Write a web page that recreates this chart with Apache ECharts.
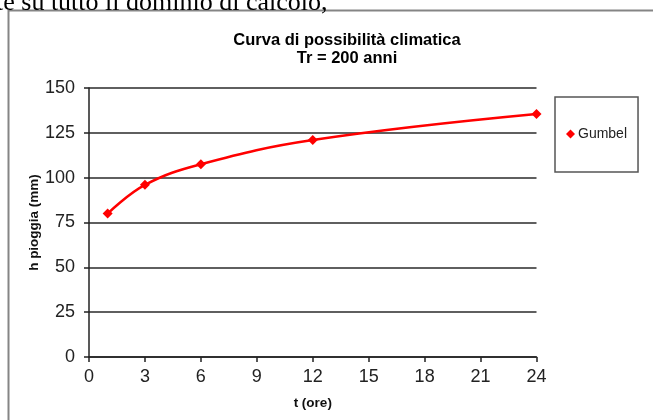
<!DOCTYPE html>
<html>
<head>
<meta charset="utf-8">
<title>Curva di possibilità climatica</title>
<script src="https://cdn.jsdelivr.net/npm/echarts@6/dist/echarts.min.js"></script>
<style>
  html, body { margin: 0; padding: 0; background: #ffffff; }
  #chart { width: 653px; height: 420px; }
</style>
</head>
<body>
<div id="chart"></div>
<script>
// Durata della pioggia (ore) e altezza di pioggia (mm), Tr = 200 anni
const durate = [1, 3, 6, 12, 24];
const gumbel = [80, 96, 107.5, 121, 135.5];
const tickOre = [0, 3, 6, 9, 12, 15, 18, 21, 24];
const tickMm = [0, 25, 50, 75, 100, 125, 150];

const chart = echarts.init(document.getElementById('chart'), null, { renderer: 'canvas' });

const sans = 'Liberation Sans, Arial, sans-serif';

chart.setOption({
  animation: false,
  backgroundColor: '#ffffff',
  graphic: [
    {
      type: 'text',
      left: -4,
      top: -10,
      style: {
        text: 'te su tutto il dominio di calcolo,',
        font: '26px "Liberation Serif", "Times New Roman", serif',
        fill: '#000000'
      },
      z: 10
    },
    {
      type: 'rect',
      shape: { x: 8.5, y: 10.5, width: 700, height: 500 },
      style: { fill: 'none', stroke: '#858585', lineWidth: 2 },
      silent: true,
      z: 0
    }
  ],
  title: {
    text: 'Curva di possibilità climatica\nTr = 200 anni',
    left: 342,
    textAlign: 'center',
    top: 26,
    textStyle: {
      fontFamily: sans,
      fontSize: 16.5,
      fontWeight: 'bold',
      color: '#000000',
      lineHeight: 18
    }
  },
  legend: {
    data: ['Gumbel'],
    left: 555,
    top: 97,
    orient: 'vertical',
    icon: 'diamond',
    itemWidth: 9,
    itemHeight: 9,
    itemGap: 0,
    padding: [30, 11, 31, 11],
    borderColor: '#555555',
    borderWidth: 1.5,
    backgroundColor: '#ffffff',
    textStyle: { fontFamily: sans, fontSize: 14, color: '#222222', padding: [0, 0, 0, -2] }
  },
  grid: {
    left: 89,
    right: 116.5,
    top: 88,
    bottom: 63,
    containLabel: false
  },
  xAxis: {
    type: 'value',
    min: tickOre[0],
    max: tickOre[tickOre.length - 1],
    interval: 3,
    name: 't (ore)',
    nameLocation: 'middle',
    nameGap: 39,
    nameTextStyle: { fontFamily: sans, fontSize: 13.5, fontWeight: 'bold', color: '#111111' },
    axisLine: { show: true, onZero: false, lineStyle: { color: '#222222', width: 1.5 } },
    axisTick: { show: true, inside: false, length: 5, lineStyle: { color: '#222222', width: 1.5 } },
    axisLabel: {
      fontFamily: sans, fontSize: 18, color: '#222222', margin: 11,
      formatter: v => (tickOre.includes(v) ? String(v) : '')
    },
    splitLine: { show: false }
  },
  yAxis: {
    type: 'value',
    min: tickMm[0],
    max: tickMm[tickMm.length - 1],
    interval: 25,
    name: 'h pioggia (mm)',
    nameLocation: 'middle',
    nameGap: 48,
    nameMoveOverlap: false,
    nameRotate: 90,
    nameTextStyle: { fontFamily: sans, fontSize: 13.5, fontWeight: 'bold', color: '#111111' },
    axisLine: { show: true, lineStyle: { color: '#222222', width: 1.5 } },
    axisTick: { show: true, inside: false, length: 5, lineStyle: { color: '#222222', width: 1.5 } },
    axisLabel: {
      fontFamily: sans, fontSize: 18, color: '#222222', margin: 14,
      formatter: v => (tickMm.includes(v) ? String(v) : '')
    },
    splitLine: { show: true, lineStyle: { color: '#2a2a2a', width: 1.5 } }
  },
  series: [
    {
      name: 'Gumbel',
      type: 'line',
      data: durate.map((t, i) => [t, gumbel[i]]),
      smooth: 0.4,
      symbol: 'diamond',
      symbolSize: 10,
      itemStyle: { color: '#ff0000' },
      lineStyle: { color: '#ff0000', width: 2.5 },
      z: 5
    }
  ]
});
</script>
</body>
</html>
